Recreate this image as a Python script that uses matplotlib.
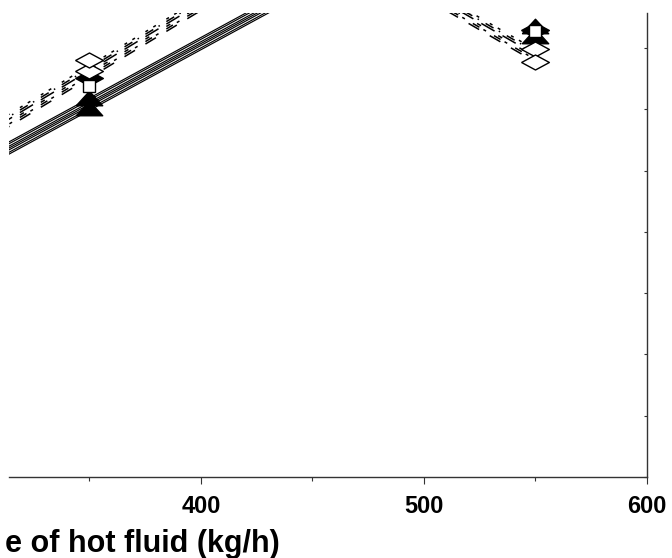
import matplotlib
matplotlib.use('Agg')
import matplotlib.pyplot as plt

plt.rcParams['font.family'] = ['Liberation Sans', 'DejaVu Sans']

# ---------------- data ----------------
line_x = [300, 350, 400, 450, 500, 550]

solid_a = [4.99, 5.98, 6.97, 7.96, 8.50, 8.20]
solid_b = [5.02, 6.01, 7.00, 7.99, 8.53, 8.23]
solid_c = [5.06, 6.05, 7.04, 8.03, 8.57, 8.27]
solid_d = [5.09, 6.08, 7.07, 8.06, 8.60, 8.30]
solid_e = [5.12, 6.11, 7.10, 8.09, 8.63, 8.33]
solid_f = [5.16, 6.15, 7.14, 8.13, 8.67, 8.37]
solid_g = [5.19, 6.18, 7.17, 8.16, 8.70, 8.40]

dash_a = [5.41, 6.51, 7.61, 8.71, 7.82, 6.77]
dash_b = [5.45, 6.55, 7.65, 8.75, 7.86, 6.81]
dash_c = [5.49, 6.59, 7.69, 8.79, 7.90, 6.85]
dash_d = [5.53, 6.63, 7.73, 8.83, 7.94, 6.89]
dash_e = [5.57, 6.67, 7.77, 8.87, 7.98, 6.93]
dash_f = [5.61, 6.71, 7.81, 8.91, 8.02, 6.97]

marker_x = [350, 550]
mk_fill_tri_a = [6.02, 7.20]
mk_fill_tri_b = [6.18, 7.36]
mk_fill_diam = [6.51, 7.30]
mk_open_sq = [6.38, 7.28]
mk_open_diam_a = [6.62, 6.98]
mk_open_diam_b = [6.80, 6.77]

x_major = [400, 500, 600]
x_minor = [350, 450, 550]
x_labels = ['400', '500', '600']
y_ticks = [0, 1, 2, 3, 4, 5, 6, 7]
x_title = 'e of hot fluid (kg/h)'

# ---------------- styles ----------------
diamond_sq = [(-1, 0), (0, 0.54), (1, 0), (0, -0.54), (-1, 0)]
tri_up_sq = [(-1, -0.55), (1, -0.55), (0, 0.55), (-1, -0.55)]

fig = plt.figure(figsize=(6.72, 5.58), dpi=100)
ax = fig.add_axes([9 / 672, 81 / 558, 638 / 672, 464 / 558])

for ys in [solid_a, solid_b, solid_c, solid_d, solid_e, solid_f, solid_g]:
    ax.plot(line_x, ys, color='black', lw=0.85, zorder=2)

dash_styles = [(8, 8), (5, 3, 2, 6), (3, 13), (10, 6), (6, 4, 1, 5), (2, 4, 2, 8)]
for ys, d in zip([dash_a, dash_b, dash_c, dash_d, dash_e, dash_f], dash_styles):
    ax.plot(line_x, ys, color='black', lw=1.1, dashes=d, zorder=2)

ax.plot(marker_x, mk_fill_diam, ls='none', marker=diamond_sq, ms=20,
        mfc='black', mec='black', mew=1, zorder=3)
ax.plot(marker_x, mk_fill_tri_b, ls='none', marker=tri_up_sq, ms=19,
        mfc='black', mec='black', mew=1, zorder=4)
ax.plot(marker_x, mk_fill_tri_a, ls='none', marker=tri_up_sq, ms=19,
        mfc='black', mec='black', mew=1, zorder=4)
ax.plot(marker_x, mk_open_sq, ls='none', marker='s', ms=9,
        mfc='white', mec='black', mew=1, zorder=5)
ax.plot(marker_x, mk_open_diam_a, ls='none', marker=diamond_sq, ms=20,
        mfc='white', mec='black', mew=1, zorder=5)
ax.plot(marker_x, mk_open_diam_b, ls='none', marker=diamond_sq, ms=20,
        mfc='white', mec='black', mew=1, zorder=6)

ax.set_xlim(314, 600)
ax.set_ylim(0, 7.57)

ax.set_xticks(x_major)
ax.set_xticklabels(x_labels, fontsize=17, fontweight='bold')
ax.set_xticks(x_minor, minor=True)
ax.tick_params(axis='x', which='major', direction='out', length=5, width=0.8,
               pad=8, color='#333333')
ax.tick_params(axis='x', which='minor', direction='out', length=3, width=0.8,
               color='#333333')

ax.yaxis.tick_right()
ax.set_yticks(y_ticks)
ax.tick_params(axis='y', direction='in', length=2.5, width=0.8,
               labelright=False, labelleft=False, right=True, left=False,
               color='#333333')

ax.spines['left'].set_visible(False)
ax.spines['top'].set_visible(False)
for s in ['bottom', 'right']:
    ax.spines[s].set_color('#333333')
    ax.spines[s].set_linewidth(1.0)

fig.text(5 / 672, (558 - 552) / 558, x_title, ha='left', va='baseline',
         fontsize=22, fontweight='bold')

fig.savefig('out.png', dpi=100)
